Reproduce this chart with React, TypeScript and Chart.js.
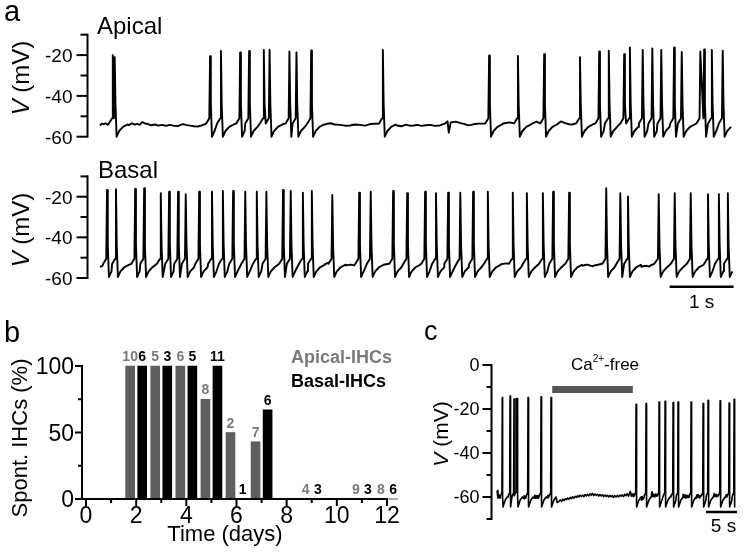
import React, { useEffect, useRef } from 'react';
import { Chart, registerables } from 'chart.js';

Chart.register(...registerables);

const FONT = '"Liberation Sans", Arial, Helvetica, sans-serif';

// ---------------- Panel a : apical IHC trace (time in s, voltage in mV) ----------------
const apicalSpikeTimes = [0.2, 0.23, 1.72, 1.89, 2.19, 2.33, 2.56, 2.65, 2.96, 3.07, 3.3, 4.42, 6.08, 6.53, 6.94, 7.5, 7.8, 7.95, 8.19, 8.28, 8.48, 8.63, 8.77, 8.97, 9.09, 9.38, 9.44, 9.56, 9.73];
const apicalSpikePeaks = [-20, -21, -20.6, -18, -18.7, -18, -17.5, -17.5, -18.2, -18.7, -17.7, -17.5, -20.2, -20.4, -19.5, -21, -18.2, -17.8, -19.5, -16.2, -17.5, -16.7, -17.5, -16.2, -18.5, -18.2, -17.2, -17.5, -17.8];
const apicalBaseline = [
  [0.0, -54.5], [0.03, -53.6], [0.06, -53.9], [0.09, -53.4], [0.12, -54.2],
  [0.45, -54.3], [0.5, -53.4], [0.54, -54.1], [0.58, -53.7], [0.62, -54.2], [0.66, -52.8], [0.7, -53.5], [0.75, -53.8], [0.8, -54.4], [0.86, -54.0], [0.91, -54.6], [0.97, -54.2], [1.03, -54.7], [1.09, -54.2], [1.15, -54.6], [1.22, -54.8], [1.26, -54.2], [1.3, -53.8], [1.36, -54.3], [1.41, -54.6], [1.47, -54.9], [1.53, -55.0], [1.58, -54.6], [1.63, -54.0],
  [3.52, -54.0], [3.56, -53.6], [3.6, -53.4], [3.67, -54.0], [3.75, -54.2], [3.83, -54.6], [3.91, -54.5], [3.98, -54.0], [4.06, -54.2], [4.14, -54.6], [4.22, -53.8],
  [4.64, -54.5], [4.71, -54.9], [4.78, -54.1], [4.84, -54.6], [4.9, -54.5], [4.96, -54.2], [5.02, -54.7], [5.09, -54.4], [5.16, -54.2], [5.23, -54.7], [5.31, -54.5], [5.39, -53.6], [5.43, -52.4], [5.45, -58.0], [5.48, -53.0], [5.56, -52.6], [5.62, -53.2], [5.7, -53.8], [5.75, -54.4], [5.8, -54.2], [5.86, -53.8], [5.92, -53.6],
  [6.3, -53.5], [6.4, -53.0], [6.75, -53.6], [6.82, -52.6], [7.15, -53.8], [7.2, -52.5], [7.28, -53.5], [7.33, -53.9], [7.38, -54.0],
];
const apicalRest = -54;
const apicalEnd = 9.9;

// ---------------- Panel a : basal IHC trace ----------------
const basalSpikeTimes = [0.11, 0.25, 0.55, 0.69, 0.95, 1.08, 1.22, 1.34, 1.55, 1.75, 1.92, 2.08, 2.27, 2.45, 2.6, 2.86, 2.98, 3.17, 3.31, 3.63, 4.05, 4.23, 4.58, 4.8, 5.08, 5.25, 5.44, 5.63, 5.83, 6.06, 6.45, 6.67, 6.92, 7.08, 7.33, 7.91, 8.13, 8.25, 8.73, 8.98, 9.23, 9.5, 9.67, 9.81];
const basalSpikePeaks = [-16.7, -16.3, -16.2, -15.8, -18.3, -17.5, -17.5, -18.8, -17.5, -17.5, -17.1, -17.1, -17.5, -17.5, -17.5, -16.7, -17.1, -18, -17.1, -19.1, -18, -17.5, -17.1, -18.3, -17.5, -18.3, -18, -18, -17.5, -17.5, -18, -18.3, -18.3, -17.5, -18, -15.8, -18.3, -19.9, -18.8, -18.3, -18.3, -18.8, -18.8, -18.3];
const basalBaseline = [
  [0.0, -54.5], [0.04, -54.0],
  [3.52, -53.2], [3.56, -52.6], [3.84, -53.8], [3.92, -53.4], [3.97, -53.8],
  [6.27, -53.2], [6.35, -52.8],
  [7.54, -54.0], [7.58, -53.6], [7.62, -53.4], [7.66, -53.9], [7.7, -54.2], [7.74, -53.7], [7.78, -53.5], [7.84, -53.0],
  [8.46, -54.5], [8.5, -54.1], [8.54, -54.0], [8.58, -54.4], [8.62, -53.5], [8.66, -53.0],
];
const basalRest = -53.5;
const basalEnd = 9.9;

const traceTimeRange = [-0.195, 10];
const mvRangeA = [-60, -10];
const mvMajorA = [-20, -40, -60];
const mvMinorA = [-10, -30, -50];
const scaleBarA = [8.9, 9.9]; // 1 s

// shape of a fast spike: [dt (s), mV relative to rest]
const fastSpikePre = [[-0.06, 0.5], [-0.012, 3]];
const fastSpikePost = [[0.012, 10], [0.03, -6], [0.07, -3.2], [0.13, -1.2], [0.2, 0]];

// ---------------- Panel b : spontaneous activity vs age ----------------
const dayCategories = [2, 3, 4, 5, 6, 7, 9, 11, 12];
const apicalPercent = [100, 100, 100, 75, 50, 43, 0, 0, 0];
const basalPercent = [100, 100, 100, 100, 0, 67, 0, 0, 0];
const apicalCounts = [10, 5, 6, 8, 2, 7, 4, 9, 8];
const basalCounts = [6, 3, 5, 11, 1, 6, 3, 3, 6];
const dayTicks = [0, 2, 4, 6, 8, 10, 12];
const dayMinorTicks = [1, 3, 5, 7, 9, 11];
const percentTicks = [0, 50, 100];
const percentMinorTicks = [25, 75];

// ---------------- Panel c : Ca2+-free perfusion ----------------
const calciumSpikeTimes = [0.85, 2.1, 2.74, 3.06, 3.27, 5.0, 7.1, 8.71, 22.42, 24.03, 26.13, 27.1, 28.39, 29.19, 31.29, 33.23, 34.03, 35.97, 37.42, 38.23];
const calciumSpikePeaks = [-14.8, -14.1, -15.5, -15.2, -15.2, -14.8, -14.4, -14.8, -17.9, -17.5, -16.8, -16.5, -17.1, -16.8, -16.8, -17.5, -16, -16.3, -17.3, -15.6];
const calciumBaseline = [
  [0.0, -57], [0.15, -60.5], [0.3, -59], [0.5, -60.5], [1.5, -60.8], [1.65, -59.2], [1.78, -60],
  [3.9, -61], [4.05, -59.4], [4.2, -60.5], [4.35, -59.5], [4.45, -60.8], [4.55, -59.6], [4.65, -60.4],
  [5.6, -59.3], [5.75, -61], [5.95, -60.5], [6.1, -59.2], [6.2, -60.6], [6.35, -59.4], [6.45, -60.6], [6.6, -59.3], [6.75, -60.2],
  [7.7, -61.2], [7.85, -59.4], [8.05, -60.5], [8.2, -59.2], [8.3, -60.2],
  [9.4, -63], [9.7, -62.5], [10.0, -62], [10.2, -61.3], [10.4, -62], [10.6, -61], [10.8, -61.6], [11.0, -60.8], [11.2, -61.2], [11.4, -60.5], [11.6, -61], [11.8, -60.2], [12.0, -60.7], [12.2, -59.9], [12.4, -60.5], [12.6, -59.7], [12.8, -60.2], [13.0, -59.4], [13.2, -60], [13.4, -59.2], [13.6, -59.8], [13.8, -59.1], [14.0, -59.8], [14.2, -58.9], [14.4, -59.5], [14.6, -58.8], [14.8, -59.5], [15.0, -58.6], [15.2, -59.2], [15.4, -58.4], [15.6, -59.3], [15.8, -58.7], [16.0, -59.3], [16.2, -58.8], [16.4, -59.6], [16.6, -58.9], [16.8, -59.5], [17.0, -59.0], [17.2, -59.8], [17.4, -59.1], [17.6, -59.7], [17.8, -59.2], [18.0, -60], [18.2, -59.3], [18.4, -59.9], [18.6, -59.4], [18.8, -60.2], [19.0, -59.4], [19.2, -60], [19.4, -59.3], [19.6, -60], [19.8, -59.2], [20.0, -59.6], [20.2, -59.0], [20.4, -59.8], [20.6, -58.8], [20.8, -59.4], [21.0, -58.5], [21.2, -59.6], [21.4, -58.2], [21.5, -57.4], [21.65, -59.6], [21.8, -58.6], [21.95, -59.8], [22.05, -58.6],
  [23.3, -61.5], [23.4, -59.8], [23.55, -61], [23.7, -60.2],
  [24.9, -59], [25.0, -57.6], [25.15, -59.8], [25.3, -58.8], [25.45, -60], [25.6, -58.6], [25.75, -59.6],
  [27.9, -60.5], [28.05, -59.2],
  [30.0, -58.8], [30.15, -60.2], [30.3, -59], [30.45, -60.6], [30.6, -59.2], [30.75, -60.2], [30.85, -59.4], [30.95, -60.2],
  [32.1, -60.6], [32.25, -59], [32.4, -60.2], [32.55, -59.2], [32.7, -60.4], [32.85, -59.4],
  [34.9, -59.8], [35.0, -58.4], [35.15, -59.8], [35.3, -58.8], [35.45, -59.9], [35.6, -59],
  [36.8, -60.2], [36.95, -59], [37.05, -60],
];
const calciumRest = -60;
const calciumEnd = 38.5;
const calciumTimeRange = [-0.89, 39.5];
const mvRangeC = [-70, 0];
const mvMajorC = [0, -20, -40, -60];
const mvMinorC = [-10, -30, -50, -70];
const caFreePeriod = [8.9, 21.9];
const caFreeLevel = -11.1;
const scaleBarC = [33.7, 38.7]; // 5 s

const slowSpikePre = [[-0.3, 0.5], [-0.06, 2]];
const slowSpikePost = [[0.05, 0], [0.12, -4.5], [0.45, -1.5], [0.8, 0]];

type Pt = { x: number; y: number };

function buildTrace(times: number[], peaks: number[], knots: number[][], pre: number[][], post: number[][], rest: number, end: number): Pt[] {
  const winStart = pre[0][0];
  const winEnd = post[post.length - 1][0];
  const pts: Pt[] = [];
  knots.forEach(([t, v]) => {
    if (!times.some((s) => t >= s + winStart && t <= s + winEnd)) pts.push({ x: t, y: v });
  });
  times.forEach((s, i) => {
    const prev = i > 0 ? times[i - 1] : -Infinity;
    const next = i < times.length - 1 ? times[i + 1] : Infinity;
    pre.forEach(([dt, dv]) => {
      const t = s + dt;
      if (t > prev + 0.015) pts.push({ x: t, y: rest + dv });
    });
    pts.push({ x: s, y: peaks[i] });
    post.forEach(([dt, dv]) => {
      const t = s + dt;
      if (t < next + winStart) pts.push({ x: t, y: rest + dv });
    });
  });
  return pts.filter((p) => p.x >= 0 && p.x <= end).sort((a, b) => a.x - b.x);
}

function text(ctx: CanvasRenderingContext2D, s: string, x: number, y: number, font: string, color = '#000', align: CanvasTextAlign = 'left') {
  ctx.save();
  ctx.font = font;
  ctx.fillStyle = color;
  ctx.textAlign = align;
  ctx.textBaseline = 'alphabetic';
  ctx.fillText(s, x, y);
  ctx.restore();
}

function rotatedLabel(ctx: CanvasRenderingContext2D, parts: { s: string; italic?: boolean }[], cx: number, cy: number, size: number) {
  ctx.save();
  ctx.translate(cx, cy);
  ctx.rotate(-Math.PI / 2);
  ctx.fillStyle = '#000';
  ctx.textBaseline = 'middle';
  ctx.textAlign = 'left';
  const fonts = parts.map((p) => `${p.italic ? 'italic ' : ''}${size}px ${FONT}`);
  let total = 0;
  const widths = parts.map((p, i) => {
    ctx.font = fonts[i];
    const w = ctx.measureText(p.s).width;
    total += w;
    return w;
  });
  let x = -total / 2;
  parts.forEach((p, i) => {
    ctx.font = fonts[i];
    ctx.fillText(p.s, x, 0);
    x += widths[i];
  });
  ctx.restore();
}

function line(ctx: CanvasRenderingContext2D, x1: number, y1: number, x2: number, y2: number, w = 2, color = '#000') {
  ctx.save();
  ctx.strokeStyle = color;
  ctx.lineWidth = w;
  ctx.lineCap = 'butt';
  ctx.beginPath();
  ctx.moveTo(x1, y1);
  ctx.lineTo(x2, y2);
  ctx.stroke();
  ctx.restore();
}

function drawYAxis(chart: any, range: number[], major: number[], minor: number[], fontSize: number, majorLen: number, minorLen: number, labelGap: number) {
  const { ctx, chartArea, scales } = chart;
  const y = scales.y;
  const ax = chartArea.left;
  line(ctx, ax, y.getPixelForValue(range[0]) + 1, ax, y.getPixelForValue(range[1]) - 1);
  major.forEach((v) => {
    const py = y.getPixelForValue(v);
    line(ctx, ax - majorLen, py, ax, py);
    text(ctx, String(v), ax - majorLen - labelGap, py + fontSize * 0.36, `${fontSize}px ${FONT}`, '#000', 'right');
  });
  minor.forEach((v) => {
    const py = y.getPixelForValue(v);
    line(ctx, ax - minorLen, py, ax, py);
  });
}

function traceConfig(points: Pt[], xr: number[], yr: number[], pad: any, overlay: (c: any) => void, width: number, extra: any[] = []) {
  return {
    type: 'line',
    data: {
      datasets: [
        { data: points, borderColor: '#000', borderWidth: width, pointRadius: 0, tension: 0, fill: false, clip: false, borderJoinStyle: 'round' },
        ...extra,
      ],
    },
    options: {
      responsive: false,
      animation: false,
      events: [],
      layout: { padding: pad },
      scales: {
        x: { type: 'linear', display: false, min: xr[0], max: xr[1] },
        y: { type: 'linear', display: false, min: yr[0], max: yr[1] },
      },
      plugins: { legend: { display: false }, tooltip: { enabled: false } },
    },
    plugins: [{ id: 'overlay', afterDraw: overlay }],
  } as any;
}

export default function App() {
  const apRef = useRef<HTMLCanvasElement>(null);
  const baRef = useRef<HTMLCanvasElement>(null);
  const barRef = useRef<HTMLCanvasElement>(null);
  const caRef = useRef<HTMLCanvasElement>(null);

  useEffect(() => {
    const charts: Chart[] = [];

    // ---- apical ----
    const apicalPts = buildTrace(apicalSpikeTimes, apicalSpikePeaks, apicalBaseline, fastSpikePre, fastSpikePost, apicalRest, apicalEnd);
    charts.push(
      new Chart(
        apRef.current!,
        traceConfig(apicalPts, traceTimeRange, mvRangeA, { left: 87.5, right: 3, top: 34.7, bottom: 13.3 }, (chart: any) => {
          const { ctx } = chart;
          drawYAxis(chart, mvRangeA, mvMajorA, mvMinorA, 19, 11, 7, 4);
          text(ctx, 'a', 4, 21, `29px ${FONT}`);
          text(ctx, 'Apical', 97, 34, `24px ${FONT}`);
          rotatedLabel(ctx, [{ s: 'V', italic: true }, { s: ' (mV)' }], 22, 78, 24);
        }, 1.9)
      )
    );

    // ---- basal ----
    const basalPts = buildTrace(basalSpikeTimes, basalSpikePeaks, basalBaseline, fastSpikePre, fastSpikePost, basalRest, basalEnd);
    charts.push(
      new Chart(
        baRef.current!,
        traceConfig(basalPts, traceTimeRange, mvRangeA, { left: 87.5, right: 3, top: 26.4, bottom: 32 }, (chart: any) => {
          const { ctx, scales } = chart;
          drawYAxis(chart, mvRangeA, mvMajorA, mvMinorA, 19, 11, 7, 4);
          text(ctx, 'Basal', 98, 28, `24px ${FONT}`);
          rotatedLabel(ctx, [{ s: 'V', italic: true }, { s: ' (mV)' }], 22, 80, 24);
          const x1 = scales.x.getPixelForValue(scaleBarA[0]);
          const x2 = scales.x.getPixelForValue(scaleBarA[1]);
          line(ctx, x1, 136.7, x2, 136.7, 2.5);
          text(ctx, '1 s', (x1 + x2) / 2, 158, `19px ${FONT}`, '#000', 'center');
        }, 1.9)
      )
    );

    // ---- bar chart ----
    const grayColor = '#5e5e5e';
    const grayText = '#7a7a7a';
    charts.push(
      new Chart(barRef.current!, {
        type: 'bar',
        data: {
          datasets: [
            {
              data: dayCategories.map((d, i) => ({ x: d - 0.24, y: apicalPercent[i] })),
              backgroundColor: grayColor,
              borderWidth: 0,
              barThickness: 9,
              grouped: false,
              clip: false,
            },
            {
              data: dayCategories.map((d, i) => ({ x: d + 0.24, y: basalPercent[i] })),
              backgroundColor: '#000',
              borderWidth: 0,
              barThickness: 9,
              grouped: false,
              clip: false,
            },
          ],
        },
        options: {
          responsive: false,
          animation: false,
          events: [],
          layout: { padding: { left: 82, right: 13, top: 61, bottom: 61 } },
          scales: {
            x: { type: 'linear', display: false, min: -0.16, max: 12, offset: false },
            y: { type: 'linear', display: false, min: 0, max: 100 },
          },
          plugins: { legend: { display: false }, tooltip: { enabled: false } },
        },
        plugins: [
          {
            id: 'overlayB',
            afterDraw: (chart: any) => {
              const { ctx, chartArea, scales } = chart;
              const x = scales.x;
              const y = scales.y;
              const ax = chartArea.left;
              const y0 = y.getPixelForValue(0);
              // y axis
              line(ctx, ax, y0 + 1, ax, y.getPixelForValue(100) - 1);
              percentTicks.forEach((v) => {
                const py = y.getPixelForValue(v);
                line(ctx, ax - 7, py, ax, py);
                text(ctx, String(v), ax - 8, py + 8, `23px ${FONT}`, '#000', 'right');
              });
              percentMinorTicks.forEach((v) => {
                const py = y.getPixelForValue(v);
                line(ctx, ax - 4, py, ax, py);
              });
              // x axis
              line(ctx, ax - 1, y0, x.getPixelForValue(12) + 1, y0);
              dayTicks.forEach((d) => {
                const px = x.getPixelForValue(d);
                line(ctx, px, y0, px, y0 + 7);
                text(ctx, String(d), px, y0 + 24, `23px ${FONT}`, '#000', 'center');
              });
              dayMinorTicks.forEach((d) => {
                const px = x.getPixelForValue(d);
                line(ctx, px, y0, px, y0 + 4);
              });
              // counts above bars
              dayCategories.forEach((d, i) => {
                text(ctx, String(apicalCounts[i]), x.getPixelForValue(d - 0.24), y.getPixelForValue(apicalPercent[i]) - 5, `bold 14px ${FONT}`, grayText, 'center');
                text(ctx, String(basalCounts[i]), x.getPixelForValue(d + 0.24), y.getPixelForValue(basalPercent[i]) - 5, `bold 14px ${FONT}`, '#000', 'center');
              });
              // legend
              text(ctx, 'Apical-IHCs', 291, 58, `bold 18px ${FONT}`, grayText);
              text(ctx, 'Basal-IHCs', 291, 82, `bold 18px ${FONT}`, '#000');
              // titles
              text(ctx, 'b', 4, 37, `29px ${FONT}`);
              rotatedLabel(ctx, [{ s: 'Spont. IHCs (%)' }], 21, 133, 22);
              text(ctx, 'Time (days)', 225, 236, `22px ${FONT}`, '#000', 'center');
            },
          },
        ],
      } as any)
    );

    // ---- calcium ----
    const caPts = buildTrace(calciumSpikeTimes, calciumSpikePeaks, calciumBaseline, slowSpikePre, slowSpikePost, calciumRest, calciumEnd);
    const caFreeBar = {
      data: [
        { x: caFreePeriod[0], y: caFreeLevel },
        { x: caFreePeriod[1], y: caFreeLevel },
      ],
      borderColor: '#555',
      borderWidth: 7,
      borderCapStyle: 'butt',
      pointRadius: 0,
      fill: false,
      clip: false,
    };
    charts.push(
      new Chart(
        caRef.current!,
        traceConfig(caPts, calciumTimeRange, mvRangeC, { left: 91.5, right: 1, top: 60, bottom: 41 }, (chart: any) => {
          const { ctx, scales } = chart;
          drawYAxis(chart, mvRangeC, mvMajorC, mvMinorC, 18, 9, 5, 3);
          text(ctx, 'c', 24, 35, `27px ${FONT}`);
          rotatedLabel(ctx, [{ s: 'V', italic: true }, { s: ' (mV)' }], 42, 129, 21);
          // Ca2+-free label
          ctx.save();
          ctx.font = `17px ${FONT}`;
          const w1 = ctx.measureText('Ca').width;
          const w3 = ctx.measureText('-free').width;
          ctx.font = `10px ${FONT}`;
          const w2 = ctx.measureText('2+').width;
          ctx.restore();
          const total = w1 + w2 + w3;
          const cx = 205;
          let sx = cx - total / 2;
          text(ctx, 'Ca', sx, 65, `17px ${FONT}`);
          sx += w1;
          text(ctx, '2+', sx, 57, `10px ${FONT}`);
          sx += w2;
          text(ctx, '-free', sx, 65, `17px ${FONT}`);
          // scale bar 5 s
          const x1 = scales.x.getPixelForValue(scaleBarC[0]);
          const x2 = scales.x.getPixelForValue(scaleBarC[1]);
          line(ctx, x1, 207, x2, 207, 2.5);
          text(ctx, '5 s', (x1 + x2) / 2 + 2, 227, `19px ${FONT}`, '#000', 'center');
        }, 1.6, [caFreeBar])
      )
    );

    return () => charts.forEach((c) => c.destroy());
  }, []);

  const abs = (left: number, top: number) => ({ position: 'absolute' as const, left, top });

  return (
    <div style={{ position: 'absolute', left: 0, top: 0, width: 743, height: 560, background: '#fff', overflow: 'hidden' }}>
      <canvas ref={apRef} width={743} height={150} style={{ ...abs(0, 0), width: 743, height: 150 }} />
      <canvas ref={baRef} width={743} height={160} style={{ ...abs(0, 150), width: 743, height: 160 }} />
      <canvas ref={barRef} width={400} height={255} style={{ ...abs(0, 305), width: 400, height: 255 }} />
      <canvas ref={caRef} width={343} height={255} style={{ ...abs(400, 305), width: 343, height: 255 }} />
    </div>
  );
}
